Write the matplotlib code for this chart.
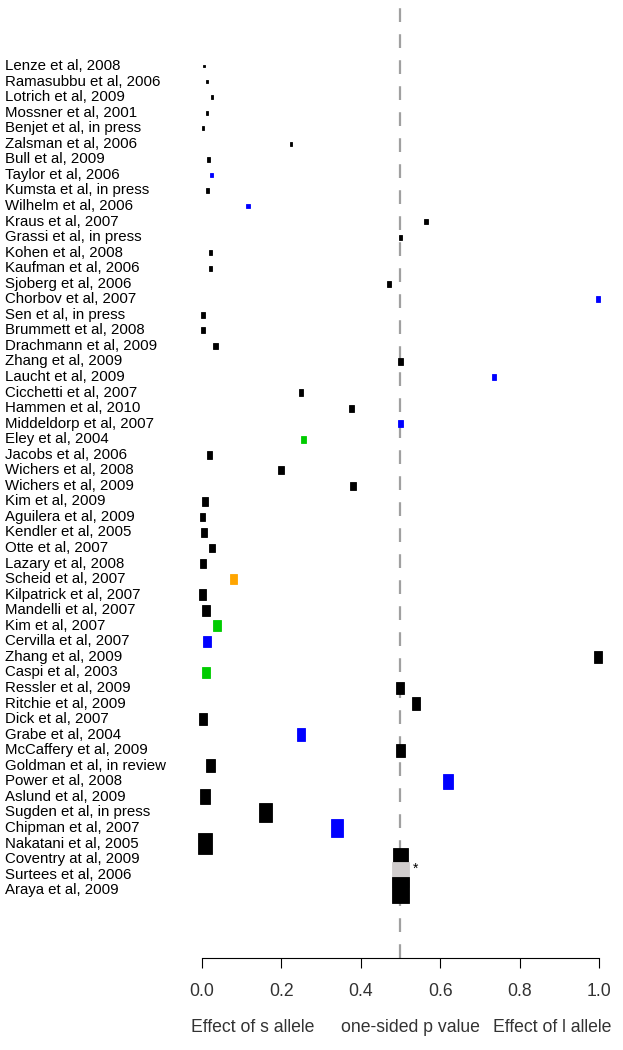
import matplotlib
matplotlib.use('Agg')
import matplotlib.pyplot as plt
from matplotlib.patches import Rectangle
from matplotlib.transforms import blended_transform_factory

plt.rcParams['font.family'] = ['Liberation Sans', 'DejaVu Sans']

# studies, top to bottom
studies = ['Lenze et al, 2008', 'Ramasubbu et al, 2006', 'Lotrich et al, 2009',
           'Mossner et al, 2001', 'Benjet et al, in press', 'Zalsman et al, 2006',
           'Bull et al, 2009', 'Taylor et al, 2006', 'Kumsta et al, in press',
           'Wilhelm et al, 2006', 'Kraus et al, 2007', 'Grassi et al, in press',
           'Kohen et al, 2008', 'Kaufman et al, 2006', 'Sjoberg et al, 2006',
           'Chorbov et al, 2007', 'Sen et al, in press', 'Brummett et al, 2008',
           'Drachmann et al, 2009', 'Zhang et al, 2009', 'Laucht et al, 2009',
           'Cicchetti et al, 2007', 'Hammen et al, 2010', 'Middeldorp et al, 2007',
           'Eley et al, 2004', 'Jacobs et al, 2006', 'Wichers et al, 2008',
           'Wichers et al, 2009', 'Kim et al, 2009', 'Aguilera et al, 2009',
           'Kendler et al, 2005', 'Otte et al, 2007', 'Lazary et al, 2008',
           'Scheid et al, 2007', 'Kilpatrick et al, 2007', 'Mandelli et al, 2007',
           'Kim et al, 2007', 'Cervilla et al, 2007', 'Zhang et al, 2009',
           'Caspi et al, 2003', 'Ressler et al, 2009', 'Ritchie et al, 2009',
           'Dick et al, 2007', 'Grabe et al, 2004', 'McCaffery et al, 2009',
           'Goldman et al, in review', 'Power et al, 2008', 'Aslund et al, 2009',
           'Sugden et al, in press', 'Chipman et al, 2007', 'Nakatani et al, 2005',
           'Coventry at al, 2009', 'Surtees et al, 2006', 'Araya et al, 2009']

# one-sided p values
pvals = [0.005, 0.013, 0.025, 0.013, 0.002, 0.224, 0.016, 0.025, 0.013, 0.116,
         0.564, 0.5, 0.022, 0.022, 0.471, 0.998, 0.002, 0.002, 0.034, 0.5,
         0.736, 0.25, 0.376, 0.5, 0.256, 0.019, 0.199, 0.38, 0.007, 0.001,
         0.006, 0.026, 0.003, 0.079, 0.001, 0.01, 0.038, 0.013, 0.997, 0.01,
         0.5, 0.539, 0.003, 0.249, 0.5, 0.021, 0.62, 0.008, 0.16, 0.34,
         0.008, 0.5, 0.5, 0.5]

# relative study weight (drives box size)
weight = [1.5, 2.2, 2.5, 2.5, 2.5, 2.8, 3.0, 3.0, 3.2, 3.2,
          3.3, 3.3, 3.4, 3.5, 3.8, 3.8, 4.0, 4.0, 4.2, 4.3,
          4.5, 4.5, 4.7, 4.8, 4.8, 5.0, 5.3, 5.3, 5.6, 5.6,
          5.8, 5.9, 6.0, 6.3, 7.0, 7.2, 7.5, 7.5, 7.7, 7.6,
          8.0, 8.3, 8.5, 8.5, 8.5, 8.6, 10.0, 10.0, 12.5, 12.5,
          14.0, 15.0, 16.5, 17.0]

# outcome group
group = ['k', 'k', 'k', 'k', 'k', 'k', 'k', 'b', 'k', 'b',
         'k', 'k', 'k', 'k', 'k', 'b', 'k', 'k', 'k', 'k',
         'b', 'k', 'k', 'b', 'g', 'k', 'k', 'k', 'k', 'k',
         'k', 'k', 'k', 'o', 'k', 'k', 'g', 'b', 'k', 'g',
         'k', 'k', 'k', 'b', 'k', 'k', 'b', 'k', 'k', 'b',
         'k', 'k', 's', 'k']

xticks = [0.0, 0.2, 0.4, 0.6, 0.8, 1.0]
bottom_labels = ['Effect of s allele', 'one-sided p value', 'Effect of l allele']
bottom_pos = [0.128, 0.525, 0.882]

cols = {'k': 'black', 'b': '#0000FF', 'g': '#00CC00', 'o': '#FFA500', 's': '#D0CCCC'}

fig = plt.figure(figsize=(6.23, 10.5), dpi=100)
ax = fig.add_axes([0, 1 - 958 / 1050, 1, 958 / 1050])

px_x = 397.0     # pixels per unit p
px_y = 15.55     # pixels per row
ax.set_xlim(-202 / px_x, (623 - 202) / px_x)
ax.set_ylim(1 + (958 - 66) / px_y, 1 - 66 / px_y)

ax.axvline(0.5, color='#A0A0A0', lw=1.6, dashes=(6.2, 5.5), zorder=1)

trans = blended_transform_factory(fig.transFigure, ax.transData)
for i, name in enumerate(studies):
    r = i + 1
    w = weight[i] / px_x
    h = 1.5 * weight[i] / px_y
    c = cols[group[i]]
    ax.add_patch(Rectangle((pvals[i] - w / 2, r - h / 2), w, h,
                           facecolor=c, edgecolor=c, lw=0.6, zorder=3))
    ax.text(5 / 623, r, name, transform=trans, fontsize=10.8,
            va='center', ha='left')

# asterisk next to Surtees
ax.text(0.537, len(studies) - 1 - 0.4, '*', fontsize=10, ha='center', va='center')

for s in ['top', 'left', 'right']:
    ax.spines[s].set_visible(False)
ax.spines['bottom'].set_bounds(0, 1)
ax.spines['bottom'].set_linewidth(0.8)
ax.set_yticks([])
ax.set_xticks(xticks)
ax.set_xticklabels(['%.1f' % t for t in xticks], fontsize=12.7, color='#333333')
ax.tick_params(axis='x', length=7.2, width=0.8, pad=11)

for lab, xp in zip(bottom_labels, bottom_pos):
    fig.text((202 + xp * px_x) / 623, 1 - 1027 / 1050, lab, fontsize=12.7,
             ha='center', va='center', color='#333333')

fig.savefig('out.png', dpi=100)
